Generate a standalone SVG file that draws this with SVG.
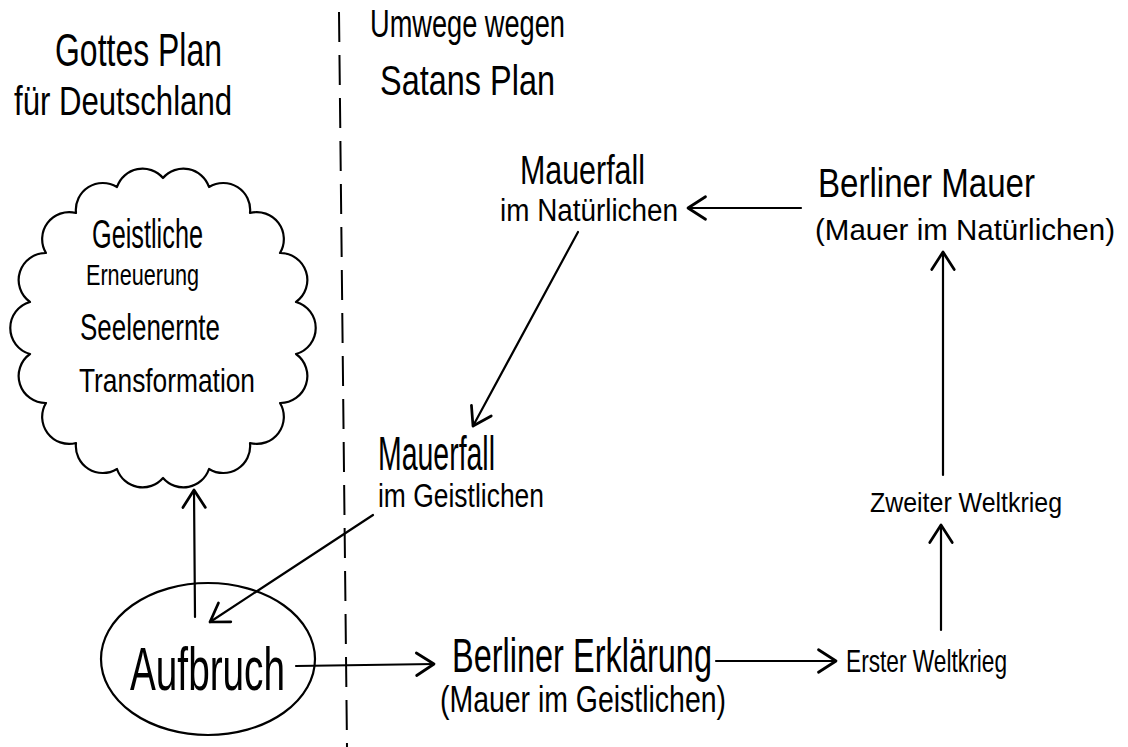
<svg xmlns="http://www.w3.org/2000/svg" width="1128" height="747" viewBox="0 0 1128 747">
<style>
text{font-family:"Liberation Sans","DejaVu Sans",sans-serif;fill:#000;}
.ln{fill:none;stroke:#000;stroke-width:2.2;stroke-linecap:round;stroke-linejoin:round;}
.e{text-anchor:end;}
</style>
<defs>
<marker id="ah" markerUnits="userSpaceOnUse" markerWidth="30" markerHeight="30" viewBox="-16 -12 20 24" refX="0" refY="0" orient="auto">
<path d="M-14,-9 L0,0 L-14,9" fill="none" stroke="#000" stroke-width="2.2" stroke-linecap="round" stroke-linejoin="round"/>
</marker>
</defs>
<rect width="1128" height="747" fill="#fff"/>

<line x1="339" y1="12" x2="347" y2="747" stroke="#000" stroke-width="2" stroke-dasharray="30,13"/>

<g id="headerLeft">
<text x="55" y="66" font-size="46" textLength="167" lengthAdjust="spacingAndGlyphs">Gottes Plan</text>
<text x="14" y="115" font-size="40" textLength="218" lengthAdjust="spacingAndGlyphs">für Deutschland</text>
</g>
<g id="headerRight">
<text x="370" y="37" font-size="38" textLength="195" lengthAdjust="spacingAndGlyphs">Umwege wegen</text>
<text x="380" y="95" font-size="42" textLength="175" lengthAdjust="spacingAndGlyphs">Satans Plan</text>
</g>

<g id="cloud">
<path class="ln" d="M163,178 A27,27 0 0 1 209,187 A27,27 0 0 1 250,213 A27,27 0 0 1 280,253 A27,27 0 0 1 296,302 A27,27 0 0 1 296,354 A27,27 0 0 1 280,403 A27,27 0 0 1 250,443 A27,27 0 0 1 209,469 A27,27 0 0 1 163,478 A27,27 0 0 1 117,469 A27,27 0 0 1 76,443 A27,27 0 0 1 46,403 A27,27 0 0 1 30,354 A27,27 0 0 1 30,302 A27,27 0 0 1 46,253 A27,27 0 0 1 76,213 A27,27 0 0 1 117,187 A27,27 0 0 1 163,178 Z"/>
<text x="92" y="248" font-size="40" textLength="111" lengthAdjust="spacingAndGlyphs">Geistliche</text>
<text x="86" y="285" font-size="30" textLength="113" lengthAdjust="spacingAndGlyphs">Erneuerung</text>
<text x="80" y="340" font-size="36" textLength="140" lengthAdjust="spacingAndGlyphs">Seelenernte</text>
<text x="79" y="392" font-size="33" textLength="176" lengthAdjust="spacingAndGlyphs">Transformation</text>
</g>

<g id="aufbruch">
<ellipse class="ln" cx="208" cy="659" rx="107" ry="76"/>
<text x="130" y="690" font-size="62" textLength="155" lengthAdjust="spacingAndGlyphs">Aufbruch</text>
</g>

<g id="mauerfallGeistlich">
<text x="378" y="470" font-size="48" textLength="117" lengthAdjust="spacingAndGlyphs">Mauerfall</text>
<text x="378" y="507" font-size="34" textLength="166" lengthAdjust="spacingAndGlyphs">im Geistlichen</text>
</g>

<g id="mauerfallNatuerlich">
<text x="520" y="184" font-size="41" textLength="125" lengthAdjust="spacingAndGlyphs">Mauerfall</text>
<text x="500" y="221" font-size="31" textLength="178" lengthAdjust="spacingAndGlyphs">im Natürlichen</text>
</g>

<g id="berlinerMauer">
<text x="818" y="197" font-size="40" textLength="217" lengthAdjust="spacingAndGlyphs">Berliner Mauer</text>
<text x="815" y="240" font-size="30" textLength="300" lengthAdjust="spacingAndGlyphs">(Mauer im Natürlichen)</text>
</g>

<g id="zweiterWeltkrieg">
<text x="870" y="512" font-size="28" textLength="192" lengthAdjust="spacingAndGlyphs">Zweiter Weltkrieg</text>
</g>

<g id="ersterWeltkrieg">
<text x="846" y="672" font-size="32" textLength="161" lengthAdjust="spacingAndGlyphs">Erster Weltkrieg</text>
</g>

<g id="berlinerErklaerung">
<text x="452" y="672" font-size="48" textLength="260" lengthAdjust="spacingAndGlyphs">Berliner Erklärung</text>
<text x="440" y="712" font-size="36" textLength="286" lengthAdjust="spacingAndGlyphs">(Mauer im Geistlichen)</text>
</g>

<g id="connectors">
<path class="ln" d="M195,617 L194,490" marker-end="url(#ah)"/>
<path class="ln" d="M373,515 L210,622" marker-end="url(#ah)"/>
<path class="ln" d="M296,666 L434,664" marker-end="url(#ah)"/>
<path class="ln" d="M578,232 L473,426" marker-end="url(#ah)"/>
<path class="ln" d="M801,208 L688,208" marker-end="url(#ah)"/>
<path class="ln" d="M943,475 L943,252" marker-end="url(#ah)"/>
<path class="ln" d="M941,630 L941,525" marker-end="url(#ah)"/>
<path class="ln" d="M716,661 L836,661" marker-end="url(#ah)"/>
</g>
</svg>
